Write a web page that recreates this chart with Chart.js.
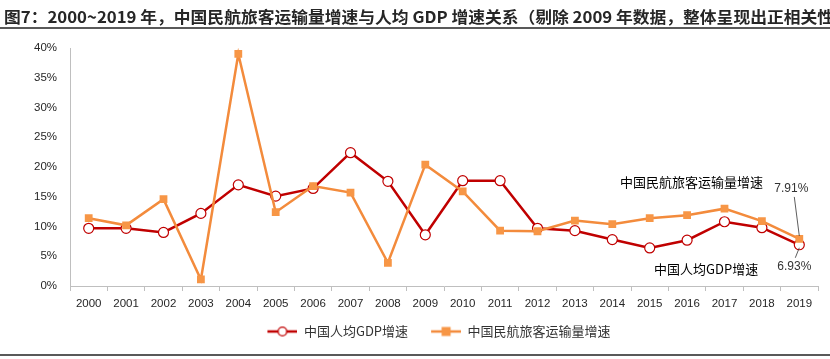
<!DOCTYPE html>
<html>
<head>
<meta charset="utf-8">
<script src="https://cdn.jsdelivr.net/npm/chart.js@4/dist/chart.umd.min.js"></script>
<style>
  html, body { margin: 0; padding: 0; background: #fff; }
  #wrap { width: 830px; height: 359px; }
</style>
</head>
<body>
<div id="wrap"><canvas id="chart" width="830" height="359"></canvas></div>
<script>
// data (percent)
const years = ['2000', '2001', '2002', '2003', '2004', '2005', '2006', '2007', '2008', '2009',
  '2010', '2011', '2012', '2013', '2014', '2015', '2016', '2017', '2018', '2019'];
const gdpGrowth = [9.7, 9.7, 9.0, 12.2, 17.0, 15.1, 16.4, 22.4, 17.6, 8.6,
  17.7, 17.7, 9.7, 9.3, 7.8, 6.4, 7.7, 10.8, 9.8, 6.93];
const airGrowth = [11.4, 10.2, 14.6, 1.1, 39.0, 12.4, 16.8, 15.7, 3.9, 20.4,
  15.9, 9.3, 9.2, 11.0, 10.4, 11.4, 11.9, 13.0, 10.9, 7.91];
const seriesNames = ['中国人均GDP增速', '中国民航旅客运输量增速'];
const titleText = '图7：2000~2019 年，中国民航旅客运输量增速与人均 GDP 增速关系（剔除 2009 年数据，整体呈现出正相关性）';

const RED = '#C00000';
const ORANGE = '#F79646';
const ORANGE_LINE = '#F38B3C';
const CJK = '"Noto Sans CJK SC", "Noto Sans", sans-serif';
const LATIN = '"Liberation Sans", Arial, sans-serif';

// legend icon: line with marker, with a blank margin on the left for item spacing
function makeIcon(kind) {
  const c = document.createElement('canvas');
  c.width = 43; c.height = 12;
  const g = c.getContext('2d');
  g.strokeStyle = kind === 'circle' ? RED : ORANGE_LINE;
  g.lineWidth = 2.5;
  g.beginPath(); g.moveTo(13, 6); g.lineTo(43, 6); g.stroke();
  if (kind === 'circle') {
    g.fillStyle = '#fff'; g.lineWidth = 1.3;
    g.beginPath(); g.arc(28, 6, 4.3, 0, Math.PI * 2); g.fill(); g.stroke();
  } else {
    g.fillStyle = ORANGE;
    g.fillRect(23.5, 1.5, 9, 9);
  }
  return c;
}
const legendIcons = [makeIcon('circle'), makeIcon('square')];

const decor = {
  id: 'decor',
  afterLayout(chart) {
    // the source legend sits a bit right of the canvas centre
    chart.legend.left += 47;
  },
  afterDraw(chart) {
    const ctx = chart.ctx;
    const x = chart.scales.x, y = chart.scales.y;
    ctx.save();

    // title, squeezed horizontally like the source
    ctx.font = 'bold 16px ' + CJK;
    ctx.fillStyle = '#262626';
    ctx.textBaseline = 'alphabetic';
    const upTo = titleText.slice(0, titleText.indexOf('性') + 1);
    const sx = (834 - 4) / ctx.measureText(upTo).width;
    ctx.save();
    ctx.translate(4, 23);
    ctx.scale(sx, 1);
    ctx.fillText(titleText, 0, 0);
    ctx.restore();

    ctx.fillStyle = '#595959';
    ctx.fillRect(0, 27, 830, 2);
    ctx.fillRect(0, 354, 830, 2);

    // series name annotations
    ctx.fillStyle = '#000';
    ctx.font = '13px ' + CJK;
    ctx.textAlign = 'center';
    ctx.textBaseline = 'middle';
    ctx.fillText(seriesNames[1], x.getPixelForValue(16.12), y.getPixelForValue(17.4));
    ctx.fillText(seriesNames[0], x.getPixelForValue(16.51), y.getPixelForValue(2.85));

    // value labels on the last points with leader lines
    const last = years.length - 1;
    const px = x.getPixelForValue(last);
    const pyA = y.getPixelForValue(airGrowth[last]);
    const pyG = y.getPixelForValue(gdpGrowth[last]);
    ctx.font = '12px ' + LATIN;
    ctx.fillStyle = '#333';
    ctx.fillText(airGrowth[last].toFixed(2) + '%', px - 8, pyA - 50);
    ctx.fillText(gdpGrowth[last].toFixed(2) + '%', px - 5, pyG + 22);
    ctx.strokeStyle = '#333';
    ctx.lineWidth = 0.8;
    ctx.beginPath();
    ctx.moveTo(px - 5, pyA - 42); ctx.lineTo(px, pyA - 3);
    ctx.moveTo(px - 4, pyG + 13); ctx.lineTo(px, pyG + 3);
    ctx.stroke();
    ctx.restore();
  }
};

const ctx = document.getElementById('chart').getContext('2d');
new Chart(ctx, {
  type: 'line',
  data: {
    labels: years,
    datasets: [
      {
        label: seriesNames[0],
        data: gdpGrowth,
        borderColor: RED,
        borderWidth: 2.5,
        pointStyle: 'circle',
        pointRadius: 5,
        pointBorderWidth: 1.2,
        pointBackgroundColor: '#fff',
        pointBorderColor: RED,
        tension: 0,
        order: 1
      },
      {
        label: seriesNames[1],
        data: airGrowth,
        borderColor: ORANGE_LINE,
        borderWidth: 2.5,
        pointStyle: 'rect',
        pointRadius: 5.5,
        pointBorderWidth: 0,
        pointBackgroundColor: ORANGE,
        pointBorderColor: ORANGE,
        tension: 0,
        order: 0
      }
    ]
  },
  options: {
    responsive: false,
    animation: false,
    layout: { padding: { left: 0, right: 12, top: 48, bottom: 11 } },
    plugins: {
      title: { display: false },
      tooltip: { enabled: false },
      legend: {
        position: 'bottom',
        labels: {
          usePointStyle: true,
          pointStyleWidth: 43,
          padding: 10,
          color: '#333',
          font: { family: CJK, size: 13 },
          sort: (a, b) => a.datasetIndex - b.datasetIndex,
          generateLabels(chart) {
            const items = Chart.defaults.plugins.legend.labels.generateLabels(chart);
            items.forEach(it => { it.pointStyle = legendIcons[it.datasetIndex]; });
            return items;
          }
        }
      }
    },
    scales: {
      x: {
        offset: true,
        afterFit: s => { s.height = 29; },
        grid: { offset: true, drawOnChartArea: false, drawTicks: true, tickLength: 5, color: '#BFBFBF' },
        border: { display: true, color: '#BFBFBF' },
        ticks: { color: '#262626', font: { family: LATIN, size: 11.5 }, padding: 6, maxRotation: 0, autoSkip: false }
      },
      y: {
        min: 0,
        max: 40,
        afterFit: s => { s.width = 70; },
        grid: { display: false, drawTicks: false },
        border: { display: true, color: '#BFBFBF' },
        ticks: { stepSize: 5, color: '#262626', font: { family: LATIN, size: 11.5 }, padding: 13,
          callback: v => v + '%' }
      }
    }
  },
  plugins: [decor]
});
</script>
</body>
</html>
